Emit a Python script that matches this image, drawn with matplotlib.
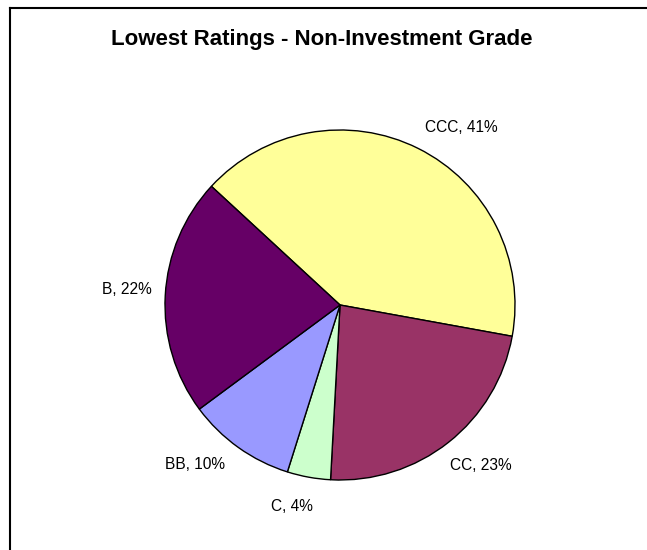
import matplotlib
matplotlib.use("Agg")
import matplotlib.pyplot as plt
from matplotlib.lines import Line2D

categories = ["CCC", "CC", "C", "BB", "B"]
values = [41, 23, 4, 10, 22]
colors = ["#FFFF99", "#993366", "#CCFFCC", "#9999FF", "#660066"]
title = "Lowest Ratings - Non-Investment Grade"

plt.rcParams['font.family'] = ['Liberation Sans', 'DejaVu Sans']

W, H = 647, 550
fig = plt.figure(figsize=(W / 100, H / 100), dpi=100)
fig.patch.set_facecolor("white")

cx, cy, r = 340, 305, 175
ax = fig.add_axes([(cx - r) / W, (H - cy - r) / H, 2 * r / W, 2 * r / H])
ax.pie(values, colors=colors, startangle=137.3, counterclock=False,
       wedgeprops=dict(edgecolor="black", linewidth=1.0), radius=1.0)
ax.set_xlim(-1, 1)
ax.set_ylim(-1, 1)
ax.set_aspect("auto")
ax.axis("off")

label_pos = [(0.691, 1.017), (0.806, -0.92), (-0.274, -1.154), (-0.826, -0.914), (-1.217, 0.086)]
for cat, v, (lx, ly) in zip(categories, values, label_pos):
    ax.text(lx, ly, f"{cat}, {v}%", ha="center", va="center", fontsize=11.2, clip_on=False)

fig.text(322 / W, 1 - 40 / H, title, ha="center", va="center", fontsize=16, fontweight="bold")

# frame lines (top and left)
fig.add_artist(Line2D([9.5 / W, 1], [1 - 7.5 / H, 1 - 7.5 / H], color="black", linewidth=1.5, transform=fig.transFigure))
fig.add_artist(Line2D([9.5 / W, 9.5 / W], [0, 1 - 7.5 / H], color="black", linewidth=1.5, transform=fig.transFigure))

fig.savefig("out.png", dpi=100)
